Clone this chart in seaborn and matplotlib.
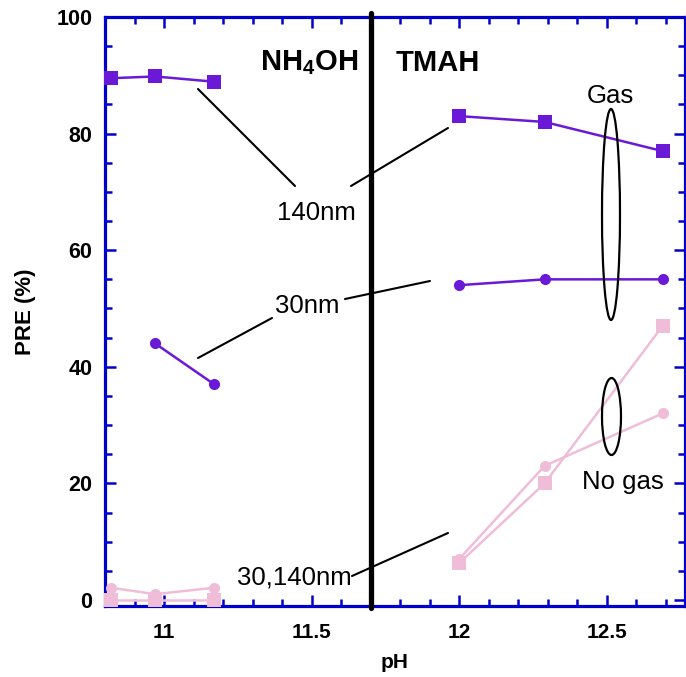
import matplotlib
matplotlib.use("Agg")
import matplotlib.pyplot as plt
from matplotlib.patches import Ellipse
from matplotlib.lines import Line2D
from matplotlib.ticker import MultipleLocator
import seaborn as sns
import pandas as pd

# ---------------- data ----------------
ph_nh4oh = [10.82, 10.97, 11.17]
ph_nh4oh_30gas = [10.97, 11.17]
ph_tmah = [12.0, 12.29, 12.69]

gas_140_nh4oh = [89.5, 89.8, 88.9]
gas_30_nh4oh = [44.0, 37.0]
nogas_140_nh4oh = [0.0, 0.0, 0.0]
nogas_30_nh4oh = [2.1, 1.0, 2.1]

gas_140_tmah = [83.0, 82.0, 77.0]
gas_30_tmah = [54.0, 55.0, 55.0]
nogas_140_tmah = [6.3, 20.0, 47.0]
nogas_30_tmah = [7.0, 23.0, 32.0]

x_ticks = [11, 11.5, 12, 12.5]
x_tick_labels = ["11", "11.5", "12", "12.5"]
y_ticks = [0, 20, 40, 60, 80, 100]
boundary_ph = 11.7

# ---------------- style ----------------
sns.set_theme(style="white")
plt.rcParams["font.family"] = ["Liberation Sans", "DejaVu Sans"]
plt.rcParams["mathtext.fontset"] = "custom"
plt.rcParams["mathtext.rm"] = "Liberation Sans"
plt.rcParams["mathtext.bf"] = "Liberation Sans:bold"
plt.rcParams["text.color"] = "black"
plt.rcParams["axes.labelcolor"] = "black"
plt.rcParams["xtick.labelcolor"] = "black"
plt.rcParams["ytick.labelcolor"] = "black"

PURPLE = "#6A1AD6"
PINK = "#F0BDD9"
BLUE = "#0000CC"

W, H = 686, 677
fig = plt.figure(figsize=(W / 100, H / 100), dpi=100)
ax = fig.add_axes([105 / W, 1 - 606 / H, (685 - 105) / W, (606 - 17) / H])


def series(x, y, color, marker, ms):
    df = pd.DataFrame({"pH": x, "PRE": y})
    sns.lineplot(data=df, x="pH", y="PRE", ax=ax, color=color, marker=marker,
                 markersize=ms, markeredgewidth=0, linewidth=1.8,
                 clip_on=False, zorder=3)


# pink (no gas)
series(ph_nh4oh, nogas_30_nh4oh, PINK, "o", 8)
series(ph_nh4oh, nogas_140_nh4oh, PINK, "s", 9.5)
series(ph_tmah, nogas_30_tmah, PINK, "o", 8)
series(ph_tmah, nogas_140_tmah, PINK, "s", 9.5)
# purple (gas)
series(ph_nh4oh_30gas, gas_30_nh4oh, PURPLE, "o", 8)
series(ph_nh4oh, gas_140_nh4oh, PURPLE, "s", 9.5)
series(ph_tmah, gas_30_tmah, PURPLE, "o", 8)
series(ph_tmah, gas_140_tmah, PURPLE, "s", 9.5)

ax.axvline(boundary_ph, ymin=-0.004, ymax=1.007, color="black", lw=3.8,
           clip_on=False, zorder=4)

ax.set_xlim(10.8, 12.766)
ax.set_ylim(-1.03, 100)
ax.set_xticks(x_ticks)
ax.set_xticklabels(x_tick_labels)
ax.set_yticks(y_ticks)
ax.xaxis.set_minor_locator(MultipleLocator(0.1))
ax.yaxis.set_minor_locator(MultipleLocator(5))

for s in ax.spines.values():
    s.set_color(BLUE)
    s.set_linewidth(2.3)
    s.set_visible(True)

ax.tick_params(which="both", direction="in", color=BLUE, width=1.8,
               top=True, right=True, bottom=True, left=True)
ax.tick_params(which="major", length=8)
ax.tick_params(which="minor", length=5)
ax.tick_params(axis="x", which="major", labelsize=15, pad=12, labelcolor="black")
ax.tick_params(axis="y", which="major", labelsize=15.5, pad=9, labelcolor="black")
for lab in ax.get_xticklabels() + ax.get_yticklabels():
    lab.set_fontweight("bold")

ax.set_xlabel("pH", fontsize=15, fontweight="bold", labelpad=8, color="black")
ax.set_ylabel("PRE (%)", fontsize=16, fontweight="bold", labelpad=15, color="black")
ax.grid(False)

# ---------------- annotations (figure pixel positions) ----------------
def fp(px, py):
    return (px / W, 1 - py / H)

ft = fig.transFigure
fig.text(*fp(309, 63), r"$\mathbf{NH_4OH}$", fontsize=21, ha="center", va="center", color="black")
fig.text(*fp(438, 63), "TMAH", fontsize=21, fontweight="bold", ha="center", va="center", color="black")
fig.text(*fp(316, 213), "140nm", fontsize=18.5, ha="center", va="center", color="black")
fig.text(*fp(307, 306), "30nm", fontsize=18.5, ha="center", va="center", color="black")
fig.text(*fp(294, 578), "30,140nm", fontsize=18.5, ha="center", va="center", color="black")
fig.text(*fp(610, 96), "Gas", fontsize=18.5, ha="center", va="center", color="black")
fig.text(*fp(623, 482), "No gas", fontsize=18.5, ha="center", va="center", color="black")

leaders = [((198, 89), (295, 186)),
           ((351, 186), (448, 128)),
           ((198, 358), (272, 318)),
           ((345, 299), (430, 281)),
           ((352, 576), (448, 533))]
for (x0, y0), (x1, y1) in leaders:
    a, b = fp(x0, y0), fp(x1, y1)
    fig.add_artist(Line2D([a[0], b[0]], [a[1], b[1]], transform=ft,
                          color="black", lw=1.5, zorder=5))

for (cx, cy, w, h) in [(611, 214.5, 18, 211), (611.5, 416.5, 19, 77)]:
    fig.add_artist(Ellipse(fp(cx, cy), w / W, h / H, transform=ft,
                           fill=False, edgecolor="black", lw=1.6, zorder=5))

fig.savefig("out.png", dpi=100)
